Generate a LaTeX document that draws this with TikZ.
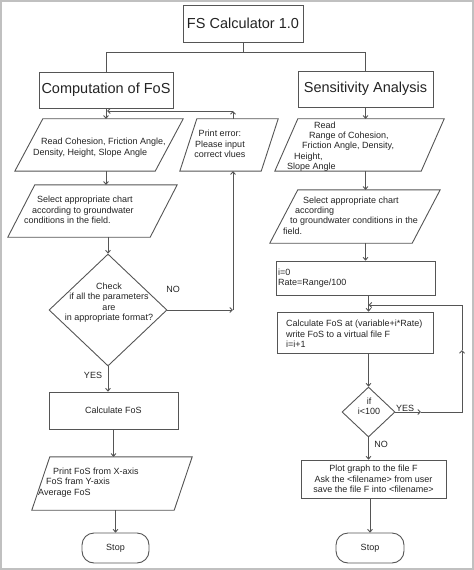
\documentclass[tikz,border=0pt]{standalone}
\usepackage{fontspec}
\setmainfont{Liberation Sans}
\usetikzlibrary{arrows.meta,shapes.geometric}
\definecolor{ln}{RGB}{85,85,85}
\definecolor{frm}{RGB}{192,192,192}
\definecolor{txt}{RGB}{35,35,35}
\begin{document}
\begin{tikzpicture}[x=1bp,y=-1bp,
  every node/.style={font=\fontsize{9bp}{10.5bp}\selectfont, text=txt, inner sep=0pt},
  bigfont/.style={font=\fontsize{14.5bp}{17bp}\selectfont},
  boxst/.style={draw=ln, line width=0.9bp, rectangle},
  area/.style={rectangle},
  shp/.style={draw=ln, line width=0.9bp, line join=miter},
  conn/.style={draw=ln, line width=0.9bp},
  arr/.style={conn, -{Straight Barb[length=2.6bp,width=5bp]}},
  stopst/.style={boxst, rounded corners=12bp},
  dia/.style={diamond, draw=ln, line width=0.9bp},
  tight/.style={font=\fontsize{9bp}{10.2bp}\selectfont}
]
\useasboundingbox (0,0) rectangle (474,570);
\draw[frm, line width=2bp] (1,1) rectangle (473,569);

% top
\node[boxst, bigfont, minimum width=120bp, minimum height=37bp] (title) at (243,23.5) {FS Calculator 1.0};
\node[boxst, bigfont, minimum width=134bp, minimum height=36bp] (comp) at (106,90) {Computation of FoS};
\node[boxst, bigfont, minimum width=135bp, minimum height=36bp] (sens) at (365.5,89) {Sensitivity Analysis};
\draw[conn] (title.south) -- ++(0,10) -| (comp.north);
\draw[conn] (title.south) -- ++(0,10) -| (sens.north);

% left column
\node[area, minimum width=168bp, minimum height=52bp] (lp1) at (99,145) {};
\draw[shp] ([xshift=28bp]lp1.north west) -- (lp1.north east) -- ([xshift=-28bp]lp1.south east) -- (lp1.south west) -- cycle;
\node[anchor=west, align=left] (lp1t) at (33,147.5) {\hspace*{8bp}Read Cohesion, Friction Angle,\\Density, Height, Slope Angle};
\draw[arr] (comp.south) -- (comp.south |- lp1.north);

\node[area, minimum width=98bp, minimum height=52bp] (pe) at (229,145) {};
\draw[shp] ([xshift=17bp]pe.north west) -- (pe.north east) -- ([xshift=-17bp]pe.south east) -- (pe.south west) -- cycle;
\node[align=center] (pet) at (220,144) {Print error:\\Please input\\correct vlues};
\coordinate (ret) at (233,111);
\coordinate (retend) at (107,111);
\draw[arr] (pe.north -| ret) -- (ret);
\draw[arr] (ret) -- (retend);

\node[area, minimum width=169bp, minimum height=52bp] (lp2) at (92.5,211) {};
\draw[shp] ([xshift=27bp]lp2.north west) -- (lp2.north east) -- ([xshift=-27bp]lp2.south east) -- (lp2.south west) -- cycle;
\node[anchor=west, align=left] (lp2t) at (24,210) {\hspace*{13bp}Select appropriate chart\\\hspace*{8bp}according to groundwater\\conditions in the field.};
\draw[arr] (lp1.south -| comp.south) -- (lp2.north -| comp.south);

\node[dia, minimum width=118bp, minimum height=112bp] (d1) at (108,310) {};
\node[align=center] (d1t) at (109,302.5) {Check\\if all the parameters\\are\\in appropriate format?};
\draw[arr] (lp2.south -| d1.north) -- (d1.north);
\node (yes1) at (93,375) {YES};
\node (no1) at (173,289) {NO};
\draw[arr] (d1.east) -- (d1.east -| ret);
\draw[arr] (d1.east -| ret) -- (ret |- pe.south);

\node[boxst, minimum width=129bp, minimum height=37bp] (cf) at (113.5,410.5) {Calculate FoS};
\draw[arr] (d1.south) -- (d1.south |- cf.north);

\node[area, minimum width=160bp, minimum height=53bp] (lp3) at (112,483.5) {};
\draw[shp] ([xshift=18bp]lp3.north west) -- (lp3.north east) -- ([xshift=-18bp]lp3.south east) -- (lp3.south west) -- cycle;
\node[anchor=west, align=left] (lp3t) at (38,482.5) {\hspace*{15bp}Print FoS from X-axis\\\hspace*{8bp}FoS fram Y-axis\\Average FoS};
\draw[arr] (cf.south) -- (cf.south |- lp3.north);

\node[stopst, minimum width=67bp, minimum height=30bp] (stop1) at (115.5,548) {Stop};
\draw[arr] (lp3.south -| stop1.north) -- (stop1.north);

% right column
\node[area, minimum width=169bp, minimum height=52bp] (rp1) at (359.5,145) {};
\draw[shp] ([xshift=23bp]rp1.north west) -- (rp1.north east) -- ([xshift=-23bp]rp1.south east) -- (rp1.south west) -- cycle;
\node[anchor=west, align=left, tight] (rp1t) at (287,146.5) {\hspace*{27bp}Read\\\hspace*{22bp}Range of Cohesion,\\\hspace*{15bp}Friction Angle, Density,\\\hspace*{7bp}Height,\\Slope Angle};
\draw[arr] (sens.south) -- (sens.south |- rp1.north);

\node[area, minimum width=170bp, minimum height=53bp] (rp2) at (355,216.5) {};
\draw[shp] ([xshift=28bp]rp2.north west) -- (rp2.north east) -- ([xshift=-28bp]rp2.south east) -- (rp2.south west) -- cycle;
\node[anchor=west, align=left, tight] (rp2t) at (283,215.5) {\hspace*{20bp}Select appropriate chart\\\hspace*{12bp}according\\\hspace*{7bp}to groundwater conditions in the\\field.};
\draw[arr] (rp1.south -| sens.south) -- (rp2.north -| sens.south);

\node[boxst, minimum width=159bp, minimum height=34bp] (ib) at (355.5,278) {};
\node[anchor=west, align=left] (ibt) at (278,278) {i=0\\Rate=Range/100};
\draw[arr] (rp2.south -| sens.south) -- (ib.north -| sens.south);

\node[dia, minimum width=53bp, minimum height=50bp] (d2) at (368.5,412) {};
\node[align=center] (d2t) at (369,406.5) {if\\i\textless100};

\node[boxst, minimum width=156bp, minimum height=41bp] (cb) at (355,332.5) {};
\node[anchor=west, align=left] (cbt) at (286,334) {Calculate FoS at (variable+i*Rate)\\write FoS to a virtual file F\\i=i+1};
\draw[arr] (ib.south -| d2.north) -- (cb.north -| d2.north);
\draw[arr] (cb.south -| d2.north) -- (d2.north);

\coordinate (lpr) at (462,305);
\coordinate (lpm) at (462,350);
\coordinate (yesend) at (421,412);
\draw[arr] (d2.east) -- (yesend);
\draw[arr] (yesend) -- (yesend -| lpm) -- (lpm);
\draw[arr] (lpm) -- (lpr) -- (lpr -| d2.north);
\node (yes2) at (405,408) {YES};
\node (no2) at (381,444) {NO};

\node[boxst, minimum width=145bp, minimum height=38bp, align=center] (pb) at (373.5,479) {Plot graph to the file F\\Ask the <filename> from user\\save the file F into <filename>};
\draw[arr] (d2.south) -- (d2.south |- pb.north);

\node[stopst, minimum width=68bp, minimum height=30bp] (stop2) at (370,548) {Stop};
\draw[arr] (pb.south -| stop2.north) -- (stop2.north);
\end{tikzpicture}
\end{document}
